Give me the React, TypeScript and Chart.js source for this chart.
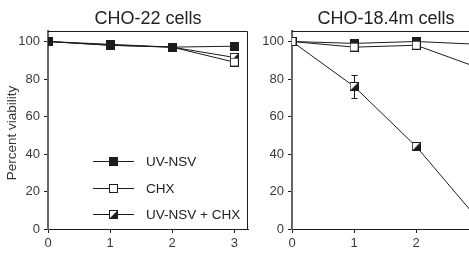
import React, { useEffect, useRef } from 'react';
import { Chart, registerables } from 'chart.js';

Chart.register(...registerables);

// Time after treatment (x) and viability (%) for each cell line
const days = [0, 1, 2, 3];
const xTickValues = [0, 1, 2, 3];
const yTickValues = [0, 20, 40, 60, 80, 100];
const seriesNames = ['UV-NSV', 'CHX', 'UV-NSV + CHX'];
const panelTitles = ['CHO-22 cells', 'CHO-18.4m cells'];
const yAxisTitle = 'Percent viability';

const cho22UvNsv = [100, 98.5, 97, 97.5];
const cho22Chx = [100, 98, 97, 89];
const cho22Both = [100, 98, 97, 91.5];

const cho184UvNsv = [100, 99, 100, 98.5];
const cho184Chx = [100, 97, 98, 86];
const cho184Both = [100, 76, 44, 5];
const cho184BothErr = [0, 6, 0, 0];

const FONT = '"Liberation Sans", Arial, Helvetica, sans-serif';
const INK = '#1c1c1c';
const Y_MAX = 105.6;
const X_MAX = 3.22;

type MarkerKind = 'filled' | 'open' | 'half';
const markerKinds: MarkerKind[] = ['filled', 'open', 'half'];

function makeMarker(kind: MarkerKind): HTMLCanvasElement {
  const s = 9;
  const c = document.createElement('canvas');
  c.width = s;
  c.height = s;
  const g = c.getContext('2d')!;
  g.fillStyle = kind === 'filled' ? INK : '#ffffff';
  g.fillRect(0, 0, s, s);
  if (kind === 'half') {
    g.fillStyle = INK;
    g.beginPath();
    g.moveTo(s - 1, 1);
    g.lineTo(s - 1, s - 1);
    g.lineTo(1, s - 1);
    g.closePath();
    g.fill();
  }
  g.strokeStyle = INK;
  g.lineWidth = 1;
  g.strokeRect(0.5, 0.5, s - 1, s - 1);
  return c;
}

interface PanelProps {
  left: number;
  width: number;
  title: string;
  titleCenter: number;
  series: number[][];
  orders: number[];
  errors?: number[];
  errorSeries?: number;
  legend?: boolean;
  yTitle?: boolean;
  padLeft: number;
  padRight: number;
}

function Panel(props: PanelProps) {
  const ref = useRef<HTMLCanvasElement | null>(null);

  useEffect(() => {
    const canvas = ref.current;
    if (!canvas) return;
    const markers = markerKinds.map(makeMarker);

    const decor = {
      id: 'panelDecor',
      beforeDatasetsDraw(chart: any) {
        if (!props.errors || props.errorSeries === undefined) return;
        const { ctx, scales } = chart;
        const vals = props.series[props.errorSeries];
        ctx.save();
        ctx.strokeStyle = INK;
        ctx.lineWidth = 1;
        props.errors.forEach((e, i) => {
          if (!e) return;
          const x = Math.round(scales.x.getPixelForValue(days[i])) + 0.5;
          const yTop = Math.round(scales.y.getPixelForValue(vals[i] + e)) + 0.5;
          const yBot = Math.round(scales.y.getPixelForValue(vals[i] - e)) + 0.5;
          ctx.beginPath();
          ctx.moveTo(x, yTop);
          ctx.lineTo(x, yBot);
          ctx.moveTo(x - 3, yTop);
          ctx.lineTo(x + 3, yTop);
          ctx.moveTo(x - 3, yBot);
          ctx.lineTo(x + 3, yBot);
          ctx.stroke();
        });
        ctx.restore();
      },
      afterDraw(chart: any) {
        const { ctx, chartArea } = chart;
        ctx.save();
        // top and right edges of the plot frame
        ctx.strokeStyle = INK;
        ctx.lineWidth = 1;
        ctx.beginPath();
        ctx.moveTo(chartArea.left, chartArea.top + 0.5);
        ctx.lineTo(chartArea.right - 0.5, chartArea.top + 0.5);
        ctx.lineTo(chartArea.right - 0.5, chartArea.bottom);
        ctx.stroke();

        // panel title
        ctx.fillStyle = '#222';
        ctx.font = `18px ${FONT}`;
        ctx.textAlign = 'center';
        ctx.textBaseline = 'alphabetic';
        ctx.fillText(props.title, props.titleCenter, 24);

        if (props.yTitle) {
          ctx.save();
          ctx.translate(12.5, 133);
          ctx.rotate(-Math.PI / 2);
          ctx.font = `13.5px ${FONT}`;
          ctx.textAlign = 'center';
          ctx.textBaseline = 'middle';
          ctx.fillStyle = '#333';
          ctx.fillText(yAxisTitle, 0, 0);
          ctx.restore();
        }

        if (props.legend) {
          const rows = [161, 188, 214];
          seriesNames.forEach((name, i) => {
            const y = rows[i];
            ctx.strokeStyle = INK;
            ctx.lineWidth = 1;
            ctx.beginPath();
            ctx.moveTo(93, y + 0.5);
            ctx.lineTo(134, y + 0.5);
            ctx.stroke();
            const m = markers[i];
            ctx.drawImage(m, 113 - Math.floor(m.width / 2), y - Math.floor(m.height / 2));
            ctx.fillStyle = '#222';
            ctx.font = `13.5px ${FONT}`;
            ctx.textAlign = 'left';
            ctx.textBaseline = 'middle';
            ctx.fillText(name, 146, y + 1);
          });
        }
        ctx.restore();
      },
    };

    const tickFont = { family: FONT, size: 13 };

    const chart = new Chart(canvas, {
      type: 'line',
      data: {
        datasets: props.series.map((vals, i) => ({
          label: seriesNames[i],
          data: days.map((d, j) => ({ x: d, y: vals[j] })),
          borderColor: INK,
          borderWidth: 1,
          pointStyle: markers[i] as any,
          pointRadius: 5,
          tension: 0,
          order: props.orders[i],
        })),
      },
      options: {
        responsive: false,
        animation: false,
        devicePixelRatio: 1,
        layout: {
          autoPadding: false,
          padding: { left: props.padLeft, right: props.padRight, top: 31, bottom: 0 },
        },
        plugins: {
          legend: { display: false },
          title: { display: false },
          tooltip: { enabled: false },
        },
        scales: {
          x: {
            type: 'linear',
            min: 0,
            max: X_MAX,
            afterBuildTicks: (s: any) => {
              s.ticks = xTickValues.map((v) => ({ value: v }));
            },
            afterFit: (s: any) => {
              s.height = 26;
            },
            grid: {
              display: true,
              drawOnChartArea: false,
              drawTicks: true,
              tickLength: 4,
              tickColor: INK,
            },
            border: { display: true, color: INK, width: 1 },
            ticks: { font: tickFont, color: '#3a3a3a', padding: 3, maxRotation: 0 },
          },
          y: {
            type: 'linear',
            min: 0,
            max: Y_MAX,
            afterBuildTicks: (s: any) => {
              s.ticks = yTickValues.map((v) => ({ value: v }));
            },
            afterFit: (s: any) => {
              s.width = 40;
            },
            grid: {
              display: true,
              drawOnChartArea: false,
              drawTicks: true,
              tickLength: 4,
              tickColor: INK,
            },
            border: { display: true, color: '#666', width: 2 },
            ticks: { font: tickFont, color: '#3a3a3a', padding: 4 },
          },
        },
      },
      plugins: [decor],
    } as any);

    return () => chart.destroy();
  }, []);

  return (
    <canvas
      ref={ref}
      width={props.width}
      height={255}
      style={{ position: 'absolute', left: props.left, top: 0, width: props.width, height: 255 }}
    />
  );
}

export default function App() {
  return (
    <div
      style={{
        position: 'fixed',
        left: 0,
        top: 0,
        width: 469,
        height: 255,
        overflow: 'hidden',
        background: '#ffffff',
      }}
    >
      <Panel
        left={0}
        width={250}
        title={panelTitles[0]}
        titleCenter={148}
        series={[cho22UvNsv, cho22Chx, cho22Both]}
        orders={[0, 1, 2]}
        legend
        yTitle
        padLeft={8}
        padRight={2}
      />
      <Panel
        left={250}
        width={250}
        title={panelTitles[1]}
        titleCenter={136}
        series={[cho184UvNsv, cho184Chx, cho184Both]}
        orders={[1, 0, 2]}
        errors={cho184BothErr}
        errorSeries={2}
        padLeft={2}
        padRight={8}
      />
    </div>
  );
}
